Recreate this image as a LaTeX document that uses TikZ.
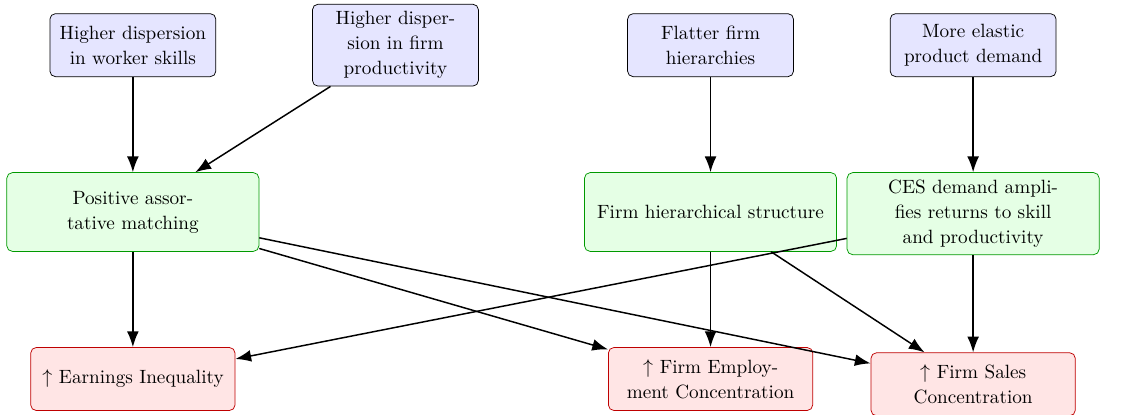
\documentclass[tikz,border=0pt]{standalone}
\usepackage{amsmath}
\usepackage{mathpazo}
\usetikzlibrary{arrows.meta}

\begin{document}
\begin{tikzpicture}
			\tikzset{boite/.style={rectangle, rounded corners=3pt, align=center, inner xsep=0.15cm, inner ysep=4pt, font=\fontsize{10.4}{13.5}\selectfont},
			cause/.style={boite, draw=black, fill=blue!10, text width=2.86cm, minimum height=1.2cm},
			meca/.style={boite, draw=green!60!black, fill=green!10, text width=4.5cm, minimum height=1.5cm, anchor=north},
			effet/.style={boite, draw=red!75!black, fill=red!10, text width=3.59cm, minimum height=1.2cm, anchor=north},
			fleche/.style={thick, -{Latex[length=3mm]}}};

			\useasboundingbox (-2.53, 0.86) rectangle (19.33, -7.03);

			\node[cause] (skills) at (0, 0) {Higher dispersion in worker skills};
			\node[cause] (prod) at (5, 0) {Higher dispersion in firm productivity};
			\node[cause] (flat) at (11, 0) {Flatter firm hierarchies};
			\node[cause] (elast) at (16, 0) {More elastic product demand};

			\node[meca] (pam) at (0, -2.42) {Positive assortative matching};
			\node[meca] (hier) at (11, -2.42) {Firm hierarchical structure};
			\node[meca] (ces) at (16, -2.42) {CES demand amplifies returns to skill and productivity};

			\node[effet] (earn) at (0, -5.75) {$\uparrow$ Earnings Inequality};
			\node[effet] (emp) at (11, -5.75) {$\uparrow$ Firm Employ-\\ment Concentration};
			\node[effet] (sales) at (16, -5.85) {$\uparrow$ Firm Sales Concentration};

			\draw[fleche] (skills) to (pam);
			\draw[fleche] (prod) to (pam);
			\draw[fleche] (flat) to (hier);
			\draw[fleche] (elast) to (ces);

			\draw[fleche] (pam) to (earn);
			\draw[fleche] (pam) to (emp);
			\draw[fleche] (pam) to (sales);

			\draw[fleche] (hier) to (emp);
			\draw[fleche] (hier) to (sales);

			\draw[fleche] (ces) to (earn);
			\draw[fleche] (ces) to (sales);
		\end{tikzpicture}
\end{document}
